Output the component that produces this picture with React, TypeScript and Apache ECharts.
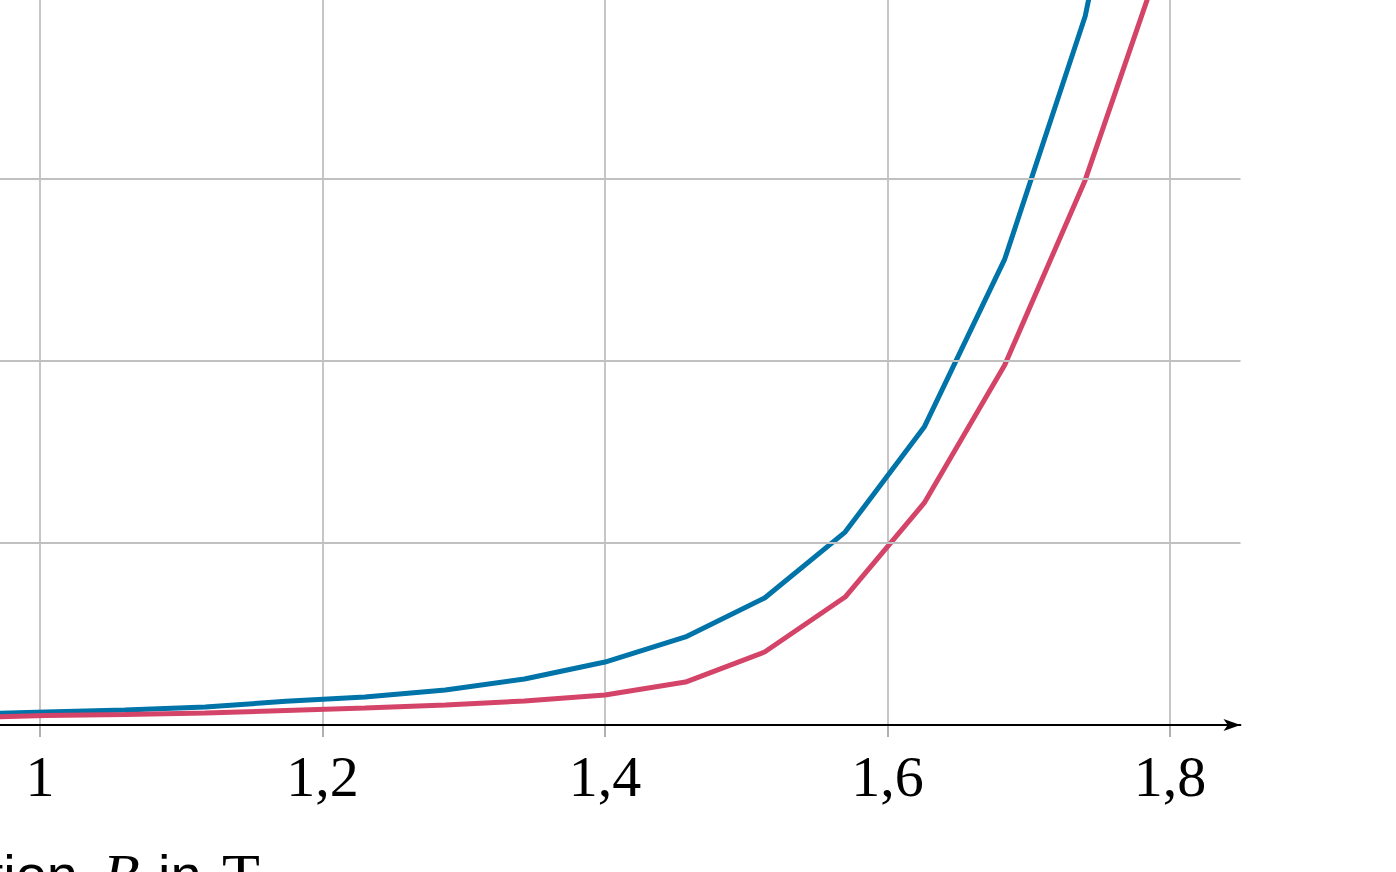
import React, { useEffect, useRef } from "react";
import * as echarts from "echarts";

// Flux density B in T (x)
const fluxB = [0.947, 1.004, 1.06, 1.117, 1.174, 1.23, 1.287, 1.343, 1.4, 1.457, 1.513, 1.57, 1.626, 1.683, 1.74, 1.796];
// Upper curve (blue)
const blueValues = [60, 71, 82, 99, 130, 154, 192, 253, 346, 484, 698, 1060, 1637, 2560, 3896, 6000];
// Lower curve (red)
const redValues = [40, 52, 58, 66, 80, 93, 110, 132, 165, 236, 401, 703, 1220, 1978, 2995, 4260];
// Tick values of the x axis
const xTicks = [1.0, 1.2, 1.4, 1.6, 1.8];
// Horizontal grid values
const yTicks = [1000, 2000, 3000];

const BLUE = "#0073A9";
const RED = "#D44468";
const GRID = "#C0C0C0";

export default function App() {
  const ref = useRef<HTMLDivElement>(null);
  useEffect(() => {
    if (!ref.current) return;
    const chart = echarts.init(ref.current, null, { renderer: "svg" });
    const axisPx = 725;
    const bottom = 872 - axisPx;
    const pxPerUnit = 1412.5;
    const pxPerY = 182 / 1000;
    const x0 = 40; // pixel of first tick
    const tickMin = xTicks[0];
    const tickMax = xTicks[xTicks.length - 1];
    const axisEndPx = 1240.5;
    const xMin = tickMin - x0 / pxPerUnit;
    const xMax = tickMin + (axisEndPx - x0) / pxPerUnit;
    const yMax = axisPx / pxPerY;
    const tickMaxPx = x0 + (tickMax - tickMin) * pxPerUnit;
    const serif = "Liberation Serif";
    const sans = "Liberation Sans";
    chart.setOption({
      animation: false,
      backgroundColor: "#ffffff",
      grid: [
        { left: 0, right: 1396 - axisEndPx, top: 0, bottom },
        { left: x0, right: 1396 - tickMaxPx, top: 0, bottom },
      ],
      xAxis: [
        {
          type: "value",
          gridIndex: 0,
          min: xMin,
          max: xMax,
          axisLine: {
            show: true,
            lineStyle: { color: "#000", width: 1.8 },
            symbol: ["none", "arrow"],
            symbolSize: [9, 17],
          },
          axisTick: { show: false },
          axisLabel: { show: false },
          splitLine: { show: false },
          z: 5,
        },
        {
          type: "value",
          gridIndex: 1,
          min: tickMin,
          max: tickMax,
          interval: 0.2,
          axisLine: { show: false },
          axisTick: { show: true, length: 12, lineStyle: { color: "#a8a8a8", width: 1.8 } },
          axisLabel: {
            show: true,
            margin: 22,
            fontFamily: serif,
            fontSize: 58,
            lineHeight: 58,
            color: "#000",
            formatter: (v: number) => String(Math.round(v * 10) / 10).replace(".", ","),
          },
          splitLine: { show: true, lineStyle: { color: GRID, width: 1.8 } },
        },
      ],
      yAxis: [
        {
          type: "value",
          gridIndex: 0,
          min: 0,
          max: yMax,
          axisLine: { show: false },
          axisTick: { show: false },
          axisLabel: { show: false },
          splitLine: { show: false },
        },
        {
          type: "value",
          gridIndex: 1,
          min: 0,
          max: yMax,
          show: false,
          splitLine: { show: false },
        },
      ],
      series: [
        {
          type: "line",
          xAxisIndex: 0,
          yAxisIndex: 0,
          data: [],
          z: 1,
          silent: true,
          markLine: {
            silent: true,
            symbol: ["none", "none"],
            label: { show: false },
            lineStyle: { color: GRID, width: 1.8, type: "solid" },
            emphasis: { disabled: true },
            data: yTicks.map((v) => ({ yAxis: v })),
          },
        },
        {
          type: "line",
          xAxisIndex: 0,
          yAxisIndex: 0,
          data: fluxB.map((b, i) => [b, blueValues[i]]),
          showSymbol: false,
          lineStyle: { color: BLUE, width: 5 },
          z: 3,
        },
        {
          type: "line",
          xAxisIndex: 0,
          yAxisIndex: 0,
          data: fluxB.map((b, i) => [b, redValues[i]]),
          showSymbol: false,
          lineStyle: { color: RED, width: 5 },
          z: 3,
        },
      ],
      graphic: [
        {
          type: "text",
          x: 78,
          y: 874,
          style: {
            text: "Magnetische Induktion",
            fontFamily: sans,
            fontSize: 56,
            lineHeight: 56,
            fill: "#000",
            align: "right",
            verticalAlign: "middle",
          },
        },
        {
          type: "text",
          x: 103,
          y: 874.5,
          style: {
            text: "B",
            fontFamily: serif,
            fontStyle: "italic",
            fontSize: 60,
            lineHeight: 60,
            fill: "#000",
            align: "left",
            verticalAlign: "middle",
          },
        },
        {
          type: "text",
          x: 158,
          y: 874,
          style: {
            text: "in",
            fontFamily: sans,
            fontSize: 56,
            lineHeight: 56,
            fill: "#000",
            align: "left",
            verticalAlign: "middle",
          },
        },
        {
          type: "text",
          x: 222,
          y: 875,
          style: {
            text: "T",
            fontFamily: serif,
            fontSize: 62,
            lineHeight: 62,
            fill: "#000",
            align: "left",
            verticalAlign: "middle",
          },
        },
      ],
    });
    return () => chart.dispose();
  }, []);
  return (
    <div
      ref={ref}
      style={{ position: "fixed", left: 0, top: 0, width: 1396, height: 872, background: "#fff" }}
    />
  );
}
